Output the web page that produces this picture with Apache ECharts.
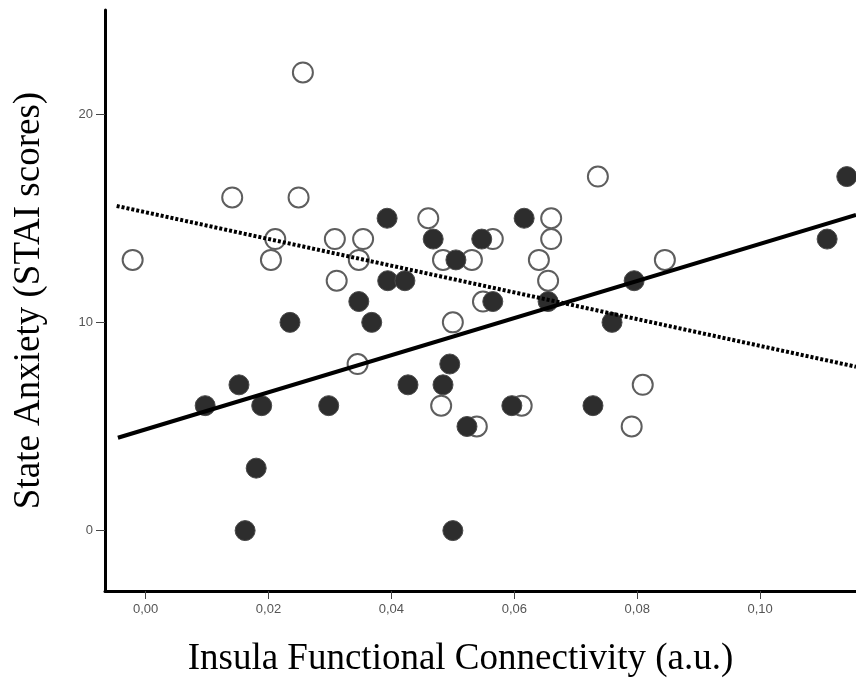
<!DOCTYPE html>
<html>
<head>
<meta charset="utf-8">
<script src="https://cdn.jsdelivr.net/npm/echarts@6/dist/echarts.min.js"></script>
<style>html,body{margin:0;padding:0;background:#fff}#c{width:856px;height:679px}</style>
</head>
<body>
<div id="c"></div>
<script>
// Open circles group: [x, y]
const openX = [-0.0021,0.0141,0.0256,0.0249,0.0211,0.0204,0.0308,0.0354,0.0347,0.0311,0.0460,0.0565,0.0484,0.0531,0.0660,0.0660,0.0640,0.0655,0.0549,0.0500,0.0736,0.0845,0.0345,0.0481,0.0539,0.0612,0.0809,0.0791];
const openY = [13,16,22,16,14,13,14,14,13,12,15,14,13,13,15,14,13,12,11,10,17,13,8,6,5,6,7,5];
// Filled circles group
const filledX = [0.0393,0.0468,0.0394,0.0422,0.0347,0.0235,0.0368,0.0547,0.0505,0.0616,0.0565,0.0655,0.0759,0.0795,0.1141,0.1109,0.0097,0.0152,0.0189,0.0180,0.0162,0.0298,0.0427,0.0495,0.0484,0.0500,0.0523,0.0596,0.0728];
const filledY = [15,14,12,12,11,10,10,14,13,15,11,11,10,12,17,14,6,7,6,3,0,6,7,8,7,0,5,6,6];
// Fit lines (endpoints)
const fitFilledX = [-0.0045, 0.1156];
const fitFilledY = [4.46, 15.16];
const fitOpenX = [-0.0047, 0.1156];
const fitOpenY = [15.59, 7.87];
// Ticks
const xTicks = [0, 0.02, 0.04, 0.06, 0.08, 0.10];
const yTicks = [0, 10, 20];

const zip = (a, b) => a.map((v, i) => [v, b[i]]);
const chart = echarts.init(document.getElementById('c'), null, {renderer: 'canvas'});
chart.setOption({
  animation: false,
  backgroundColor: '#fff',
  grid: {left: 105, right: 0, top: 10, bottom: 88, containLabel: false, outerBoundsMode: 'none'},
  xAxis: {
    type: 'value', min: -0.0066, max: 0.1156,
    splitLine: {show: false},
    axisLine: {show: true, onZero: false, lineStyle: {color: '#000', width: 3}},
    axisTick: {show: true, customValues: xTicks, length: 8, lineStyle: {color: '#444', width: 1}},
    axisLabel: {customValues: xTicks, margin: 12, color: '#555', fontSize: 13, fontFamily: 'Liberation Sans, Arial, sans-serif',
      formatter: v => v.toFixed(2).replace('.', ',')},
    name: 'Insula Functional Connectivity (a.u.)', nameLocation: 'middle', nameGap: 50,
    nameTextStyle: {fontFamily: 'Liberation Serif, Times New Roman, serif', fontSize: 37, color: '#000', padding: [0, 40, 0, 0]}
  },
  yAxis: {
    type: 'value', min: -2.9, max: 25,
    splitLine: {show: false},
    axisLine: {show: true, onZero: false, lineStyle: {color: '#000', width: 3}},
    axisTick: {show: true, customValues: yTicks, length: 9, lineStyle: {color: '#444', width: 1}},
    axisLabel: {customValues: yTicks, margin: 12, color: '#555', fontSize: 13, fontFamily: 'Liberation Sans, Arial, sans-serif'},
    name: 'State Anxiety (STAI scores)', nameLocation: 'middle', nameGap: 57, nameRotate: 90,
    nameTextStyle: {fontFamily: 'Liberation Serif, Times New Roman, serif', fontSize: 37, color: '#000'}
  },
  series: [
    {type: 'scatter', data: zip(openX, openY), symbol: 'circle', symbolSize: 20, z: 2,
      itemStyle: {color: '#fff', borderColor: '#5e5e5e', borderWidth: 2, opacity: 1}},
    {type: 'scatter', data: zip(filledX, filledY), symbol: 'circle', symbolSize: 20, z: 3,
      itemStyle: {color: '#2d2d2d', borderColor: '#4a4a4a', borderWidth: 1, opacity: 1}},
    {type: 'line', data: zip(fitFilledX, fitFilledY), symbol: 'none', z: 4,
      lineStyle: {color: '#000', width: 4}},
    {type: 'line', data: zip(fitOpenX, fitOpenY), symbol: 'none', z: 4,
      lineStyle: {color: '#000', width: 4, type: [3, 2]}}
  ]
});
</script>
</body>
</html>
